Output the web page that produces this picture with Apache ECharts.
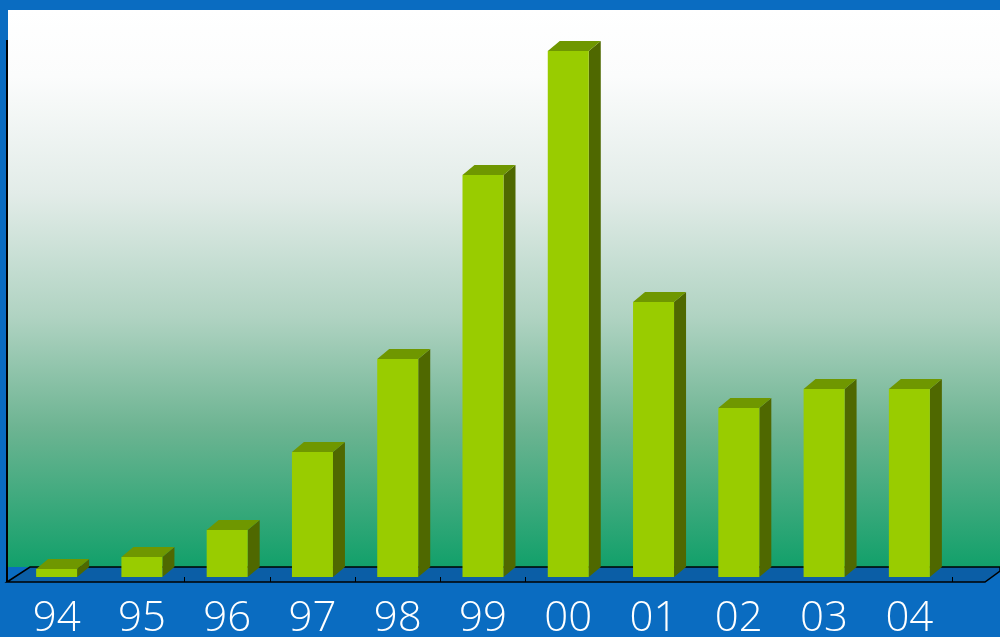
<!DOCTYPE html>
<html><head><meta charset="utf-8">
<script src="https://cdn.jsdelivr.net/npm/echarts@6/dist/echarts.min.js"></script>
<style>html,body{margin:0;padding:0;background:#0a6cc1}#c{width:1000px;height:637px}</style>
</head><body><div id="c"></div>
<script>
var categories = ['94','95','96','97','98','99','00','01','02','03','04'];
var values = [8, 20, 47, 125, 218, 402, 526, 275, 169, 188, 188];

var chart = echarts.init(document.getElementById('c'), null, {renderer:'canvas'});
var DX = 12, DY = -10, BW = 41;
chart.setOption({
  backgroundColor: '#0a6cc1',
  animation: false,
  graphic: [
    {type:'rect', z:-10, shape:{x:8,y:10,width:992,height:557},
     style:{fill:new echarts.graphic.LinearGradient(0,0,0,1,[
       {offset:0,color:'#ffffff'},{offset:0.12,color:'#fbfcfc'},{offset:0.33,color:'#e2ece8'},
       {offset:0.55,color:'#b0d3c2'},{offset:0.75,color:'#6db492'},{offset:1,color:'#12a06a'}])}},
    {type:'polygon', z:-9, shape:{points:[[7,582],[30,567],[1000,567],[1000,571],[985,582]]},
     style:{fill:'#0b5ea6', stroke:'#000', lineWidth:1.5}},
    {type:'line', z:-8, shape:{x1:7,y1:40,x2:7,y2:582}, style:{stroke:'#000',lineWidth:2}}
  ],
  grid: {left:14, right:48, top:10, bottom:60, containLabel:false, outerBoundsMode:'none'},
  xAxis: {type:'category', data:categories, boundaryGap:true,
    axisLine:{show:false},
    axisTick:{show:true, length:5, lineStyle:{color:'#000'}, interval:function(i){return i>=2&&i<=6;}},
    axisLabel:{color:'#ffffff', fontSize:42, fontFamily:'Open Sans', fontWeight:300, margin:21}},
  yAxis: {type:'value', min:0, max:567, show:false, splitLine:{show:false}},
  series: [{
    type:'custom',
    data: values.map(function(v,i){return [i,v];}),
    renderItem: function(params, api){
      var top = api.coord([api.value(0), api.value(1)]);
      var bot = api.coord([api.value(0), 0]);
      var x0 = top[0]-BW/2, x1 = top[0]+BW/2, yt = top[1], yb = bot[1];
      return {type:'group', children:[
        {type:'polygon', shape:{points:[[x1,yt],[x1+DX,yt+DY],[x1+DX,yb+DY],[x1,yb]]}, style:{fill:'#4f6800'}},
        {type:'polygon', shape:{points:[[x0,yt],[x0+DX,yt+DY],[x1+DX,yt+DY],[x1,yt]]}, style:{fill:'#6f9700'}},
        {type:'rect', shape:{x:x0,y:yt,width:BW,height:yb-yt}, style:{fill:'#99cc00'}}
      ]};
    }
  }]
});
</script></body></html>
